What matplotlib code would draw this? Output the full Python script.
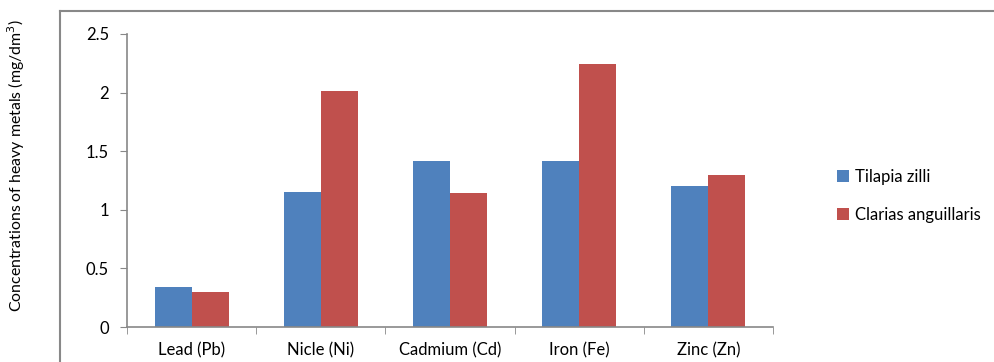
import matplotlib
matplotlib.use("Agg")
import matplotlib.pyplot as plt
from matplotlib.lines import Line2D
import numpy as np

categories = ["Lead (Pb)", "Nicle (Ni)", "Cadmium (Cd)", "Iron (Fe)", "Zinc (Zn)"]
tilapia = [0.34, 1.15, 1.42, 1.42, 1.20]
clarias = [0.30, 2.01, 1.14, 2.24, 1.30]
series_names = ["Tilapia zilli", "Clarias anguillaris"]

W, H = 995, 362
plt.rcParams["font.family"] = ["Lato", "DejaVu Sans"]
fig = plt.figure(figsize=(W / 100, H / 100), dpi=100)
ax = fig.add_axes([127 / W, 1 - 327 / H, (773 - 127) / W, (327 - 34) / H])

x = np.arange(len(categories))
bw = 0.286
b1 = ax.bar(x - bw / 2, tilapia, bw, color="#4f81bd", label=series_names[0])
b2 = ax.bar(x + bw / 2, clarias, bw, color="#c0504d", label=series_names[1])

ax.set_xlim(-0.5, len(categories) - 0.5)
ax.set_ylim(0, 2.5)
ax.set_yticks([0, 0.5, 1, 1.5, 2, 2.5])
ax.set_yticklabels(["0", "0.5", "1", "1.5", "2", "2.5"])
ax.set_xticks(x)
ax.set_xticklabels(categories)
ax.set_xticks(np.arange(len(categories) + 1) - 0.5, minor=True)
ax.tick_params(axis="x", which="major", length=0, pad=11, labelsize=12)
ax.tick_params(axis="x", which="minor", length=5, color="#888888", direction="out")
ax.tick_params(axis="y", length=5, color="#888888", direction="out", labelsize=12, pad=8)
for s in ("top", "right"):
    ax.spines[s].set_visible(False)
for s in ("left", "bottom"):
    ax.spines[s].set_color("#888888")
    ax.spines[s].set_linewidth(1.2)

ax.set_ylabel("Concentrations of heavy metals (mg/dm$^3$)", fontsize=11.4)
ax.yaxis.set_label_coords(-0.155, 0.55)

fig.legend(handles=[b1, b2], loc="upper left", bbox_to_anchor=(822 / W, 1 - 154 / H),
           frameon=False, fontsize=12, handlelength=0.7, handleheight=0.7,
           labelspacing=1.3, handletextpad=0.4)

# outer chart frame (only left and top edges visible)
fig.add_artist(Line2D([60 / W, 60 / W], [0, 1 - 11 / H], transform=fig.transFigure,
                      color="#888888", lw=1.5))
fig.add_artist(Line2D([60 / W, 1], [1 - 11 / H, 1 - 11 / H], transform=fig.transFigure,
                      color="#888888", lw=1.5))

fig.savefig("out.png", dpi=100)
